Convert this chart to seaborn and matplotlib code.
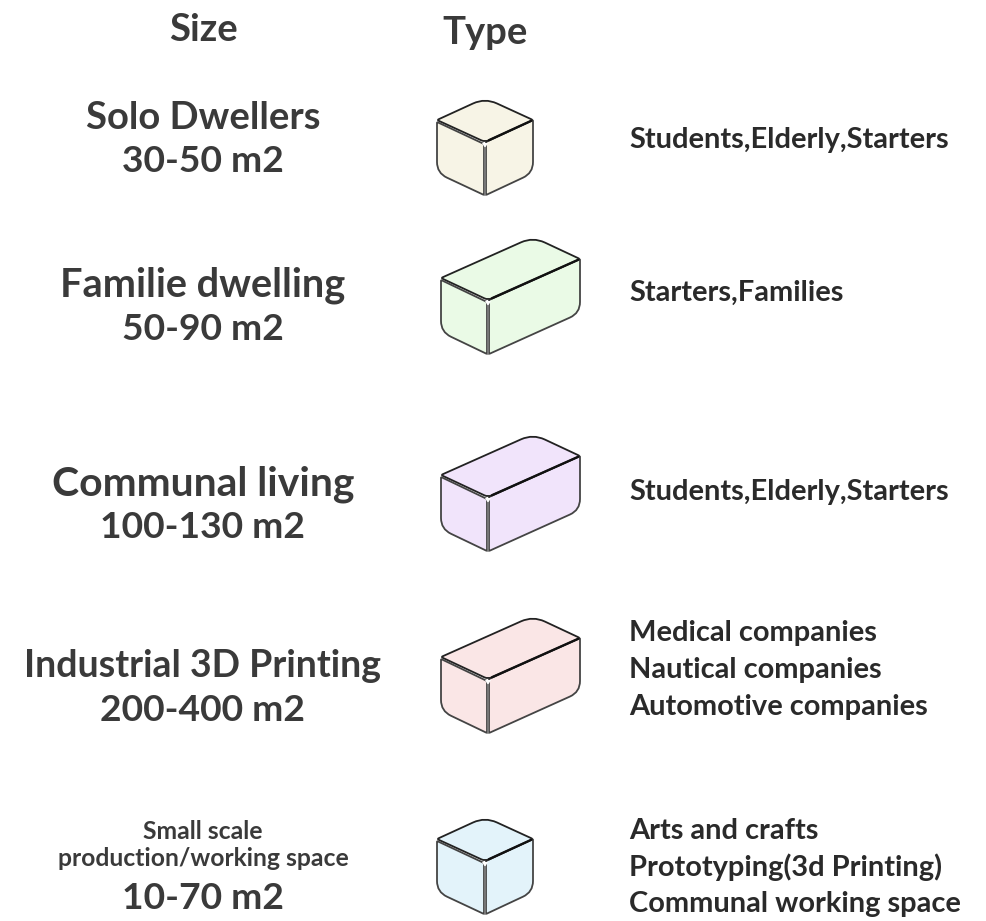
import matplotlib
matplotlib.use("Agg")
import matplotlib.pyplot as plt
import numpy as np
import seaborn as sns
from matplotlib.patches import PathPatch
from matplotlib.path import Path

# Table content
headers = ["Size", "Type"]
names = ["Solo Dwellers", "Familie dwelling", "Communal living", "Industrial 3D Printing",
         "Small scale\nproduction/working space"]
sizes = ["30-50 m2", "50-90 m2", "100-130 m2", "200-400 m2", "10-70 m2"]
users = [
    ["Students,Elderly,Starters"],
    ["Starters,Families"],
    ["Students,Elderly,Starters"],
    ["Medical companies", "Nautical companies", "Automotive companies"],
    ["Arts and crafts", "Prototyping(3d Printing)", "Communal working space"],
]
box_colors = ["#f7f4e6", "#eafae6", "#f1e4fb", "#fae6e6", "#e3f3fa"]

# Layout, in pixels of the reference
name_y = [118, 285, 484, 666, 845]
size_y = [162, 329, 527, 710, 898]
name_fs = [27.5, 28.6, 29.4, 27.0, 17.8]
size_fs = 26.8
user_y = [[140], [293], [492], [633, 670, 707], [831, 867, 904]]
user_fs = 20.9
# front corner x, y, left run x, y, right run x, y, height
box_geom = [
    (485, 142, 48, 22, 48, 22, 53),
    (488, 300, 47, 22, 92, 41, 54),
    (488, 497, 47, 22, 92, 41, 54),
    (488, 679, 47, 22, 92, 41, 54),
    (485, 861, 48, 22, 48, 22, 53),
]
INK = "#3a3a3a"
FONT = ["Lato", "DejaVu Sans"]


def rounded(points, radii):
    """Closed path through points with corners cut by quadratic curves."""
    pts = [np.array(p, float) for p in points]
    n = len(pts)
    verts, codes = [], []
    for i, p in enumerate(pts):
        prev, nxt = pts[i - 1], pts[(i + 1) % n]
        a = p + (prev - p) / np.linalg.norm(prev - p) * radii[i]
        b = p + (nxt - p) / np.linalg.norm(nxt - p) * radii[i]
        verts += [a, p, b]
        codes += [Path.LINETO, Path.CURVE3, Path.CURVE3]
    codes[0] = Path.MOVETO
    verts.append(verts[0])
    codes.append(Path.CLOSEPOLY)
    return Path(verts, codes)


def draw_box(ax, geom, color):
    cx, cy, lx, ly, rx, ry, h = geom
    front = (cx, cy)
    left = (cx - lx, cy - ly)
    right = (cx + rx, cy - ry)
    back = (cx - lx + rx, cy - ly - ry)

    # top face
    ax.add_patch(PathPatch(rounded([front, left, back, right], [4, 2, 13, 2]),
                           fc=color, ec="#222222", lw=1.3, zorder=3))
    # left face sits a hair below the top, which gives the doubled edge
    ax.add_patch(PathPatch(rounded([(cx - lx, cy - ly + 2), (cx - 1, cy + 2), (cx - 1, cy + h),
                                    (cx - lx, cy - ly + h)], [1, 1, 1, 11]),
                           fc=color, ec="#444444", lw=1.3, zorder=2))
    ax.add_patch(PathPatch(rounded([(cx + 1, cy), (cx + rx, cy - ry), (cx + rx, cy - ry + h),
                                    (cx + 1, cy + h)], [1, 1, 11, 1]),
                           fc=color, ec="#444444", lw=1.3, zorder=2))
    # heavier shared edge on the right of the top face
    ax.plot([cx + 4, right[0] - 2], [cy - 4 * ry / rx, right[1] + 2 * ry / rx],
            color="#111111", lw=1.7, zorder=4)
    # small white notch where the three faces meet
    ax.fill([cx - 3, cx + 3, cx], [cy + 1, cy + 1, cy + 6], color="white", lw=0, zorder=2.5)
    ax.plot([cx, cx], [cy + 6, cy + h], color="#777777", lw=1.4, zorder=2.5)


sns.set_theme(style="white")
plt.rcParams["font.family"] = FONT

fig, ax = plt.subplots(figsize=(9.87, 9.21), dpi=100)
ax.set_position([0, 0, 1, 1])
ax.set_xlim(0, 987)
ax.set_ylim(921, 0)
ax.axis("off")

ax.text(204, 30, headers[0], ha="center", va="center", fontsize=27.5, fontweight="bold", color=INK)
ax.text(485, 33, headers[1], ha="center", va="center", fontsize=27.5, fontweight="bold", color=INK)

for i in range(len(names)):
    ax.text(203, name_y[i], names[i], ha="center", va="center",
            fontsize=name_fs[i], fontweight="bold", color=INK, linespacing=1.25)
    ax.text(203, size_y[i], sizes[i], ha="center", va="center",
            fontsize=size_fs, fontweight="bold", color=INK)
    draw_box(ax, box_geom[i], box_colors[i])
    for label, y in zip(users[i], user_y[i]):
        ax.text(629, y, label, ha="left", va="center", fontsize=user_fs, fontweight="bold", color="#2a2a2a")

fig.savefig("out.png", dpi=100)
